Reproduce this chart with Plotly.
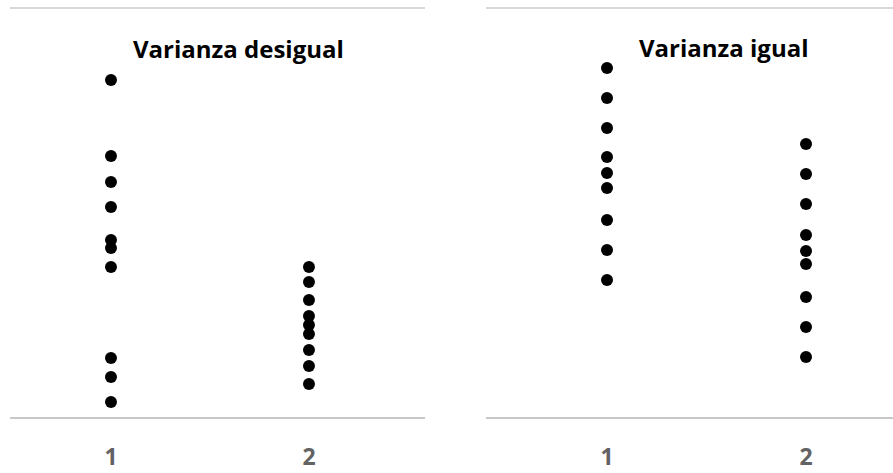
import plotly.graph_objects as go

W, H = 893, 473

categories = [1, 2]
tick_labels = ["1", "2"]

titles = ["Varianza desigual", "Varianza igual"]

# Panel 1: unequal variance
desigual_g1 = [16.48, 12.76, 11.49, 10.27, 8.66, 8.26, 7.33, 2.89, 1.96, 0.73]
desigual_g2 = [7.33, 6.60, 5.72, 4.94, 4.50, 4.06, 3.28, 2.49, 1.61]

# Panel 2: equal variance
igual_g1 = [17.07, 15.60, 14.13, 12.71, 11.93, 11.20, 9.63, 8.17, 6.70]
igual_g2 = [13.35, 11.88, 10.42, 8.90, 8.12, 7.48, 5.87, 4.40, 2.93]

fig = go.Figure()

marker = dict(color="black", size=12, line=dict(width=0))

def add(vals, cat, xa, ya):
    fig.add_trace(go.Scatter(x=[cat] * len(vals), y=vals, mode="markers",
                             marker=marker, xaxis=xa, yaxis=ya,
                             showlegend=False, hoverinfo="y"))

add(desigual_g1, categories[0], "x", "y")
add(desigual_g2, categories[1], "x", "y")
add(igual_g1, categories[0], "x2", "y2")
add(igual_g2, categories[1], "x2", "y2")

def px(x):
    return x / W

def py(y):
    return 1 - y / H

ymax = 20.05
ydom = [py(417), py(417 - ymax * 409 / 20)]

common_x = dict(tickvals=categories, ticktext=tick_labels, showgrid=False,
                zeroline=False, showline=True, linecolor="#c8c8c8", linewidth=1.5,
                ticks="", ticklabelstandoff=19, automargin=False,
                tickfont=dict(family="Open Sans", size=23, color="#636363", weight="bold"))
common_y = dict(range=[0, ymax], tickvals=[20], showticklabels=False, showgrid=True,
                gridcolor="#d9d9d9", gridwidth=1.5, zeroline=False, showline=False,
                automargin=False)

fig.update_layout(
    width=W, height=H,
    margin=dict(l=0, r=0, t=0, b=0, autoexpand=False),
    paper_bgcolor="white", plot_bgcolor="white",
    xaxis=dict(domain=[px(10), px(425)], range=[0.49, 2.586], anchor="y", **common_x),
    yaxis=dict(domain=ydom, anchor="x", **common_y),
    xaxis2=dict(domain=[px(486), 1.0], range=[0.392, 2.437], anchor="y2", **common_x),
    yaxis2=dict(domain=ydom, anchor="x2", **common_y),
    annotations=[
        dict(text="<b>" + titles[0] + "</b>", x=px(238.5), y=py(49), xref="paper", yref="paper",
             xanchor="center", yanchor="middle", showarrow=False,
             font=dict(family="Open Sans", size=24, color="black")),
        dict(text="<b>" + titles[1] + "</b>", x=px(723.5), y=py(47), xref="paper", yref="paper",
             xanchor="center", yanchor="middle", showarrow=False,
             font=dict(family="Open Sans", size=24, color="black")),
    ],
)

fig.write_html("out.html", config={"displayModeBar": False},
               post_script="document.body.style.margin='0';document.body.style.overflow='hidden';")
